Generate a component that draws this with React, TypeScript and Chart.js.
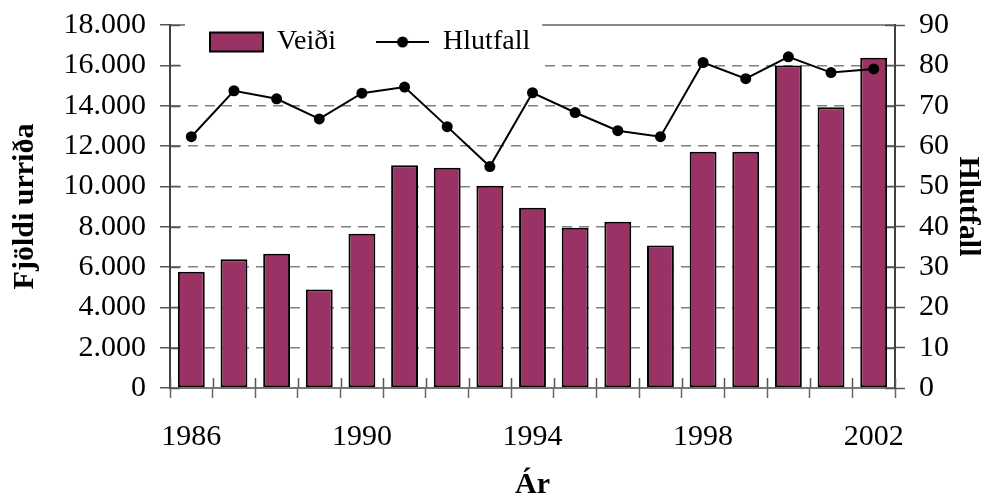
import React, { useEffect, useRef } from 'react';
import { Chart, registerables } from 'chart.js';

Chart.register(...registerables);

const years = ['1986', '1987', '1988', '1989', '1990', '1991', '1992', '1993', '1994', '1995', '1996', '1997', '1998', '1999', '2000', '2001', '2002'];
const shownYears = ['1986', '1990', '1994', '1998', '2002'];
const veidi = [5770, 6380, 6660, 4880, 7650, 11040, 10920, 10030, 8940, 7950, 8250, 7060, 11720, 11720, 15990, 13920, 16380];
const hlutfall = [62.3, 73.7, 71.7, 66.7, 73.1, 74.6, 64.8, 54.9, 73.2, 68.3, 63.8, 62.3, 80.7, 76.7, 82.1, 78.2, 79.1];

const FONT = "'Liberation Serif', 'Times New Roman', serif";
const BAR_COLOR = '#993366';

function fmtThousands(v: number): string {
  const s = String(Math.round(v));
  return s.replace(/\B(?=(\d{3})+(?!\d))/g, '.');
}

// Let the legend overlap the top of the plot area (as in the original figure).
const legendPlacePlugin = {
  id: 'legendPlace',
  afterLayout(chart: any) {
    const lg = chart.legend;
    if (!lg) return;
    const ca = chart.chartArea;
    lg.top = ca.top - 37;
    lg.bottom = ca.top + 50;
    lg.height = lg.bottom - lg.top;
  },
  beforeDatasetsDraw(chart: any) {
    const lg = chart.legend;
    if (!lg || !lg.legendHitBoxes || !lg.legendHitBoxes.length) return;
    const hb = lg.legendHitBoxes;
    const l = Math.min(...hb.map((h: any) => h.left));
    const r = Math.max(...hb.map((h: any) => h.left + h.width));
    const t = Math.min(...hb.map((h: any) => h.top));
    const b = Math.max(...hb.map((h: any) => h.top + h.height));
    const ctx = chart.ctx;
    ctx.save();
    ctx.fillStyle = '#ffffff';
    ctx.fillRect(l - 25, t - 12, r - l + 25 + 12, b - t + 12 + 14);
    ctx.restore();
    lg.draw();
  },
};

const innerTicksPlugin = {
  id: 'innerTicks',
  beforeDatasetsDraw(chart: any) {
    const { ctx, chartArea, scales } = chart;
    ctx.save();
    ctx.strokeStyle = '#555';
    ctx.lineWidth = 1.5;
    ctx.beginPath();
    const y = scales.y;
    y.ticks.forEach((t: any) => {
      const py = Math.round(y.getPixelForValue(t.value)) + 0.5;
      ctx.moveTo(chartArea.left, py);
      ctx.lineTo(chartArea.left + 10, py);
    });
    const y1 = scales.y1;
    y1.ticks.forEach((t: any) => {
      const py = Math.round(y1.getPixelForValue(t.value)) + 0.5;
      ctx.moveTo(chartArea.right - 10, py);
      ctx.lineTo(chartArea.right, py);
    });
    const x = scales.x;
    const n = years.length;
    const step = x.getPixelForValue(1) - x.getPixelForValue(0);
    for (let i = 0; i <= n; i++) {
      const px = Math.round(x.getPixelForValue(0) - step / 2 + i * step) + 0.5;
      ctx.moveTo(px, chartArea.bottom - 10);
      ctx.lineTo(px, chartArea.bottom);
    }
    ctx.stroke();
    ctx.restore();
  },
};

export default function App() {
  const ref = useRef<HTMLCanvasElement | null>(null);

  useEffect(() => {
    if (!ref.current) return;
    const icon = document.createElement('canvas');
    icon.width = 53;
    icon.height = 14;
    const ic = icon.getContext('2d')!;
    ic.strokeStyle = '#000';
    ic.lineWidth = 2;
    ic.beginPath();
    ic.moveTo(0, 7);
    ic.lineTo(53, 7);
    ic.stroke();
    ic.fillStyle = '#000';
    ic.beginPath();
    ic.arc(26.5, 7, 5.5, 0, Math.PI * 2);
    ic.fill();

    const chart = new Chart(ref.current, {
      type: 'bar',
      data: {
        labels: years,
        datasets: [
          {
            type: 'bar',
            label: 'Veiði',
            data: veidi,
            backgroundColor: BAR_COLOR,
            borderColor: '#000',
            borderWidth: 2,
            borderSkipped: false,
            yAxisID: 'y',
            order: 1,
            categoryPercentage: 1,
            barPercentage: 0.63,
          } as any,
          {
            type: 'line',
            label: 'Hlutfall',
            data: hlutfall,
            borderColor: '#000',
            backgroundColor: '#000',
            borderWidth: 2,
            pointRadius: 5.5,
            pointBackgroundColor: '#000',
            pointBorderColor: '#000',
            pointBorderWidth: 0,
            tension: 0,
            yAxisID: 'y1',
            order: 0,
          } as any,
        ],
      },
      options: {
        animation: false,
        responsive: false,
        maintainAspectRatio: false,
        layout: { padding: { top: 0, left: 0, right: 0, bottom: 0 } },
        plugins: {
          tooltip: { enabled: false },
          legend: {
            position: 'top',
            align: 'start',
            fullSize: false,
            maxHeight: 25,
            labels: {
              usePointStyle: true,
              pointStyleWidth: 53,
              boxHeight: 19,
              padding: 40,
              color: '#000',
              font: { family: FONT, size: 28 },
              sort: (a: any, b: any) => a.datasetIndex - b.datasetIndex,
              generateLabels: (c: any) => {
                const items = (Chart.defaults as any).plugins.legend.labels.generateLabels(c);
                return items.map((it: any) => {
                  const isBar = it.datasetIndex === 0;
                  return {
                    ...it,
                    pointStyle: isBar ? 'rect' : icon,
                    lineWidth: isBar ? 2 : 0,
                    strokeStyle: '#000',
                    fillStyle: isBar ? BAR_COLOR : '#000',
                  };
                });
              },
            },
          },
        },
        scales: {
          x: {
            type: 'category',
            offset: true,
            grid: {
              offset: true,
              drawOnChartArea: false,
              drawTicks: true,
              tickLength: 10,
              tickColor: '#666',
              tickWidth: 1.5,
            },
            border: { color: '#777', width: 2 },
            ticks: {
              autoSkip: false,
              maxRotation: 0,
              minRotation: 0,
              padding: 21,
              color: '#000',
              font: { family: FONT, size: 30 },
              callback: (_v: any, idx: number) => (shownYears.includes(years[idx]) ? years[idx] : ''),
            },
            title: {
              display: true,
              text: 'Ár',
              color: '#000',
              font: { family: FONT, size: 30, weight: 'bold', lineHeight: 1 },
              padding: { top: -6, bottom: 0 },
            },
          },
          xTop: {
            type: 'linear',
            position: 'top',
            display: true,
            min: 0,
            max: 1,
            grid: { display: false, drawTicks: false },
            ticks: { display: false },
            border: { display: true, color: '#888', width: 2 },
          },
          y: {
            position: 'left',
            min: 0,
            max: 18000,
            ticks: {
              stepSize: 2000,
              autoSkip: false,
              padding: 14,
              color: '#000',
              font: { family: FONT, size: 30, lineHeight: 0.6 },
              callback: (v: any) => fmtThousands(Number(v)),
            },
            grid: {
              color: '#808080',
              lineWidth: 1.5,
              tickLength: 10,
              tickColor: '#555',
              tickWidth: 1.5,
            },
            border: { dash: [10, 7], color: '#404040', width: 2 },
            title: {
              display: true,
              text: 'Fjöldi urriða',
              color: '#000',
              font: { family: FONT, size: 30, weight: 'bold', lineHeight: 1 },
              padding: { top: 10, bottom: 9.5 },
            },
          },
          y1: {
            position: 'right',
            min: 0,
            max: 90,
            ticks: {
              stepSize: 10,
              autoSkip: false,
              padding: 14,
              color: '#000',
              font: { family: FONT, size: 30, lineHeight: 0.6 },
            },
            grid: {
              drawOnChartArea: false,
              tickLength: 10,
              tickColor: '#555',
              tickWidth: 1.5,
            },
            border: { color: '#404040', width: 2 },
            title: {
              display: true,
              text: 'Hlutfall',
              color: '#000',
              font: { family: FONT, size: 30, weight: 'bold', lineHeight: 1 },
              padding: { top: 6, bottom: -10 },
            },
          },
        },
      } as any,
      plugins: [legendPlacePlugin, innerTicksPlugin],
    });
    return () => chart.destroy();
  }, []);

  return (
    <div style={{ position: 'fixed', left: 0, top: 0, width: 989, height: 500, background: '#fff' }}>
      <canvas ref={ref} width={989} height={500} style={{ display: 'block' }} />
    </div>
  );
}
